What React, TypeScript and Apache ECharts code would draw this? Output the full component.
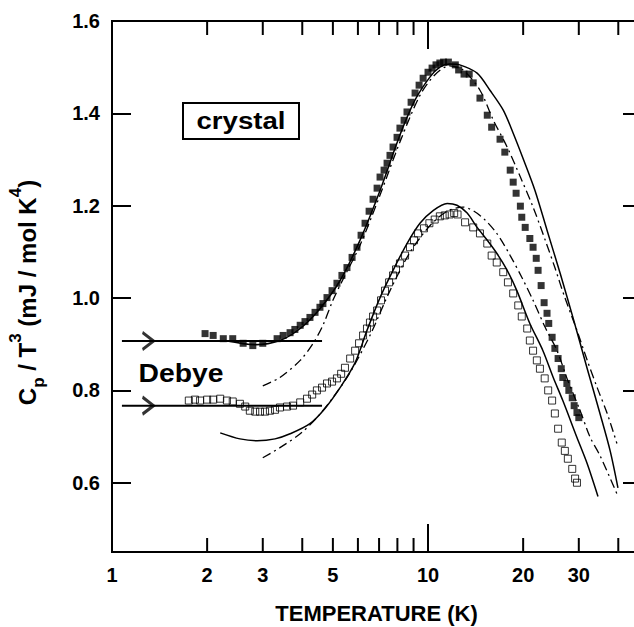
import React, { useEffect, useRef } from 'react';
import * as echarts from 'echarts';

// ---- axis ranges / ticks ----
const X_MIN = 1;
const X_MAX = 47.2;
const Y_MIN = 0.45;
const Y_MAX = 1.6;
const X_TICKS = [2, 3, 4, 5, 6, 7, 8, 9, 10, 20, 30, 40];
const X_LABELS = [1, 2, 3, 5, 10, 20, 30];
const Y_TICKS = [0.6, 0.8, 1.0, 1.2, 1.4];
const Y_LABELS = [0.6, 0.8, 1.0, 1.2, 1.4, 1.6];

// ---- measured data: filled squares (crystal) ----
const crystalData = [
  [1.97, 0.923], [2.09, 0.919], [2.25, 0.912], [2.41, 0.912], [2.6, 0.902], [2.79, 0.897], [3.0, 0.902],
  [3.33, 0.912], [3.48, 0.919], [3.66, 0.925], [3.79, 0.932], [3.94, 0.941], [4.08, 0.949], [4.23, 0.958],
  [4.39, 0.969], [4.55, 0.98], [4.65, 0.988], [4.79, 1.001], [4.97, 1.016], [5.15, 1.032], [5.34, 1.049],
  [5.54, 1.066], [5.75, 1.088], [5.96, 1.11], [6.14, 1.136], [6.32, 1.162], [6.51, 1.188], [6.7, 1.214],
  [6.9, 1.238], [7.05, 1.262], [7.26, 1.277], [7.42, 1.292], [7.58, 1.309], [7.75, 1.327], [7.98, 1.348],
  [8.15, 1.368], [8.4, 1.385], [8.58, 1.403], [8.84, 1.424], [9.1, 1.444], [9.37, 1.461], [9.65, 1.476],
  [10.0, 1.489], [10.3, 1.498], [10.6, 1.505], [10.9, 1.509], [11.2, 1.511], [11.6, 1.511], [12.2, 1.505],
  [12.5, 1.494], [13.0, 1.485], [13.5, 1.485], [13.9, 1.466], [14.6, 1.433], [15.4, 1.396], [15.9, 1.37],
  [16.9, 1.344], [17.5, 1.316], [18.2, 1.277], [18.6, 1.251], [19.0, 1.227], [19.6, 1.199], [19.8, 1.175],
  [20.3, 1.153], [21.0, 1.129], [21.5, 1.11], [22.0, 1.086], [22.3, 1.06], [22.8, 1.027], [23.3, 0.99],
  [23.8, 0.967], [24.1, 0.945], [24.7, 0.915], [25.2, 0.891], [25.8, 0.869], [26.4, 0.847], [26.7, 0.828],
  [27.5, 0.815], [27.9, 0.8], [28.6, 0.784], [29.0, 0.767], [29.6, 0.752], [30.0, 0.741],
];

// ---- measured data: open squares ----
const openData = [
  [1.75, 0.778], [1.83, 0.78], [1.9, 0.778], [2.0, 0.78], [2.09, 0.78], [2.2, 0.782], [2.31, 0.778],
  [2.41, 0.776], [2.54, 0.771], [2.64, 0.765], [2.73, 0.756], [2.84, 0.754], [2.94, 0.754], [3.05, 0.754],
  [3.16, 0.756], [3.28, 0.758], [3.4, 0.763], [3.58, 0.765], [3.74, 0.767], [3.94, 0.774], [4.14, 0.782],
  [4.3, 0.791], [4.45, 0.8], [4.62, 0.806], [4.79, 0.815], [4.97, 0.819], [5.15, 0.826], [5.31, 0.836],
  [5.46, 0.849], [5.67, 0.869], [5.88, 0.886], [6.05, 0.902], [6.23, 0.919], [6.41, 0.934], [6.55, 0.947],
  [6.7, 0.96], [6.9, 0.973], [7.1, 0.995], [7.31, 1.016], [7.53, 1.034], [7.75, 1.049], [7.92, 1.062],
  [8.15, 1.075], [8.46, 1.092], [8.77, 1.11], [9.03, 1.125], [9.3, 1.14], [9.71, 1.151], [10.1, 1.162],
  [10.5, 1.17], [10.9, 1.177], [11.3, 1.179], [11.7, 1.181], [12.1, 1.184], [12.4, 1.181], [13.1, 1.164],
  [13.9, 1.153], [14.6, 1.14], [15.4, 1.118], [15.9, 1.092], [16.5, 1.077], [17.3, 1.056], [17.9, 1.034],
  [18.6, 1.01], [19.3, 0.984], [19.8, 0.96], [20.6, 0.934], [21.0, 0.908], [21.5, 0.886], [22.1, 0.865],
  [22.6, 0.847], [23.4, 0.826], [24.0, 0.8], [24.7, 0.778], [25.2, 0.75], [25.8, 0.717], [26.5, 0.687],
  [27.1, 0.669], [27.7, 0.652], [28.6, 0.63], [29.2, 0.609], [29.6, 0.6],
];

// ---- model curves ----
const fitSolidUpper = [
  [2.28, 0.908], [2.84, 0.899], [3.4, 0.908], [3.94, 0.934], [4.55, 0.977], [5.27, 1.038], [6.09, 1.125],
  [7.05, 1.233], [8.15, 1.353], [9.1, 1.429], [10.15, 1.479], [10.9, 1.5], [11.7, 1.507], [12.6, 1.505],
  [14.3, 1.487], [15.7, 1.45], [17.3, 1.407], [18.6, 1.357], [20.1, 1.298], [21.8, 1.233], [23.8, 1.147],
  [26.2, 1.053], [28.8, 0.956], [31.9, 0.847], [35.0, 0.75], [37.7, 0.669], [39.9, 0.589],
];
const fitDashUpper = [
  [3.0, 0.81], [3.4, 0.828], [3.94, 0.865], [4.33, 0.902], [4.65, 0.941], [5.0, 0.995], [5.46, 1.049],
  [6.09, 1.114], [7.05, 1.223], [8.15, 1.338], [9.43, 1.439], [10.5, 1.483], [11.7, 1.503], [12.9, 1.494],
  [14.6, 1.45], [16.1, 1.385], [17.8, 1.327], [19.6, 1.262], [21.5, 1.197], [23.5, 1.125], [25.2, 1.066],
  [27.1, 1.001], [29.6, 0.93], [31.9, 0.865], [34.3, 0.806], [36.9, 0.75], [39.6, 0.685],
];
const fitSolidLower = [
  [2.2, 0.708], [2.54, 0.695], [2.88, 0.691], [3.28, 0.695], [3.66, 0.706], [4.23, 0.728], [4.72, 0.761],
  [5.27, 0.806], [5.88, 0.86], [6.41, 0.93], [7.05, 1.001], [7.75, 1.06], [8.58, 1.118], [9.43, 1.162],
  [10.4, 1.19], [11.5, 1.205], [12.35, 1.201], [13.3, 1.184], [14.3, 1.153], [15.4, 1.125], [16.5, 1.097],
  [17.8, 1.06], [19.1, 1.016], [21.0, 0.945], [23.1, 0.886], [24.9, 0.828], [26.7, 0.778], [29.6, 0.698],
  [31.9, 0.641], [34.5, 0.57],
];
const fitDashLower = [
  [3.0, 0.654], [3.4, 0.676], [3.94, 0.706], [4.45, 0.741], [5.0, 0.784], [5.67, 0.839], [6.55, 0.919],
  [7.58, 1.016], [8.77, 1.099], [10.15, 1.157], [11.5, 1.188], [12.9, 1.197], [14.6, 1.179], [16.5, 1.14],
  [18.2, 1.092], [19.8, 1.045], [21.5, 0.995], [23.5, 0.936], [25.6, 0.886], [27.7, 0.821], [30.3, 0.756],
  [32.6, 0.698], [35.0, 0.659], [39.6, 0.576],
];

// ---- Debye limits ----
const DEBYE_UPPER = 0.907;
const DEBYE_LOWER = 0.767;
const DEBYE_T = [1.075, 4.62];
const ARROW_T = 1.3;

const FONT = '"Liberation Sans", Arial, Helvetica, sans-serif';

export default function App() {
  const ref = useRef<HTMLDivElement>(null);
  useEffect(() => {
    if (!ref.current) return;
    const chart = echarts.init(ref.current, undefined, { renderer: 'svg' });
    const solid = { color: '#000', width: 1.5, type: 'solid' as const };
    const dashdot = { color: '#000', width: 1.3, type: [9, 4, 2, 4] };
    const lineSeries = (data: number[][], style: any) => ({
      type: 'line',
      data,
      smooth: 0.3,
      showSymbol: false,
      symbol: 'none',
      lineStyle: style,
      silent: true,
      z: 3,
    });
    const arrowPath = 'path://M0,0L10,8L0,16';
    const option: any = {
      animation: false,
      backgroundColor: '#fff',
      grid: {
        left: 112, top: 21, width: 529, height: 531,
        show: true, borderColor: '#000', borderWidth: 2,
        containLabel: false, outerBoundsMode: 'none',
      },
      xAxis: {
        type: 'log',
        logBase: 10,
        min: X_MIN,
        max: X_MAX,
        axisLine: { show: false },
        axisTick: { show: false },
        axisLabel: { show: false },
        splitLine: { show: false },
        minorTick: { show: false },
        name: 'TEMPERATURE (K)',
        nameLocation: 'middle',
        nameGap: 52,
        nameTextStyle: { fontFamily: FONT, fontWeight: 'bold', fontSize: 22, lineHeight: 18, color: '#000' },
      },
      yAxis: [
        {
          type: 'value',
          min: Y_MIN,
          max: Y_MAX,
          position: 'left',
          axisLine: { show: false },
          splitLine: { show: false },
          axisTick: { show: true, inside: true, length: 19, lineStyle: { color: '#000', width: 2 }, customValues: Y_TICKS },
          axisLabel: {
            customValues: Y_LABELS,
            formatter: (v: number) => v.toFixed(1),
            color: '#000',
            fontFamily: FONT,
            fontWeight: 'bold',
            fontSize: 20,
            margin: 12,
          },
          name: '{b|C}{sub|p}{b| / T}{sup|3}{b| (mJ / mol K}{sup|4}{b|)}',
          nameLocation: 'middle',
          nameRotate: 90,
          nameGap: 65,
          nameTextStyle: {
            color: '#000',
            fontFamily: FONT,
            fontWeight: 'bold',
            fontSize: 24,
            padding: [0, 12, 0, 0],
            rich: {
              b: { fontSize: 24, fontWeight: 'bold', fontFamily: FONT, color: '#000', lineHeight: 40 },
              sup: { fontSize: 17, fontWeight: 'bold', fontFamily: FONT, color: '#000', verticalAlign: 'top', lineHeight: 10 },
              sub: { fontSize: 17, fontWeight: 'bold', fontFamily: FONT, color: '#000', verticalAlign: 'bottom', lineHeight: 22 },
            },
          },
        },
        {
          type: 'value',
          min: Y_MIN,
          max: Y_MAX,
          position: 'right',
          axisLine: { show: false },
          splitLine: { show: false },
          axisTick: { show: true, inside: true, length: 18, lineStyle: { color: '#000', width: 2 }, customValues: Y_TICKS },
          axisLabel: { show: false },
        },
      ],
      graphic: [
        { type: 'rect', shape: { x: 183, y: 103, width: 116, height: 36 }, style: { fill: '#fff', stroke: '#000', lineWidth: 2 }, z: 100 },
        {
          type: 'text', x: 241, y: 121, scaleX: 1.15, z: 101,
          style: { text: 'crystal', font: 'bold 24px ' + FONT, fill: '#000', align: 'center', verticalAlign: 'middle' },
        },
        {
          type: 'text', x: 181, y: 373, scaleX: 1.09, z: 101,
          style: { text: 'Debye', font: 'bold 26px ' + FONT, fill: '#000', align: 'center', verticalAlign: 'middle' },
        },
      ],
      series: [
        {
          type: 'scatter',
          data: openData,
          symbol: 'rect',
          symbolSize: 7,
          itemStyle: { color: 'rgba(255,255,255,0)', borderColor: '#000', borderWidth: 1 },
          silent: true,
          z: 2,
        },
        {
          type: 'scatter',
          data: crystalData,
          symbol: 'rect',
          symbolSize: 7,
          itemStyle: { color: '#000' },
          silent: true,
          z: 2,
        },
        lineSeries(fitSolidUpper, solid),
        lineSeries(fitDashUpper, dashdot),
        lineSeries(fitSolidLower, solid),
        lineSeries(fitDashLower, dashdot),
        {
          type: 'line',
          data: [[DEBYE_T[0], DEBYE_UPPER], [DEBYE_T[1], DEBYE_UPPER]],
          showSymbol: false, symbol: 'none', silent: true,
          lineStyle: { color: '#000', width: 2 }, z: 4,
        },
        {
          type: 'line',
          data: [[DEBYE_T[0], DEBYE_LOWER], [DEBYE_T[1], DEBYE_LOWER]],
          showSymbol: false, symbol: 'none', silent: true,
          lineStyle: { color: '#000', width: 2 }, z: 4,
        },
        {
          type: 'scatter',
          data: [[ARROW_T, DEBYE_UPPER], [ARROW_T, DEBYE_LOWER]],
          symbol: arrowPath,
          symbolSize: [11, 17],
          itemStyle: { color: 'rgba(255,255,255,0)', borderColor: '#000', borderWidth: 2.8 },
          silent: true,
          z: 5,
        },
        {
          type: 'custom',
          coordinateSystem: 'cartesian2d',
          clip: false,
          silent: true,
          data: X_TICKS.map((v) => [v, Y_MIN]),
          renderItem: (_p: any, api: any) => {
            const v = api.value(0);
            const b = api.coord([v, Y_MIN]);
            const t = api.coord([v, Y_MAX]);
            const len = v === 10 ? 28 : 14;
            const st = { stroke: '#000', lineWidth: 2 };
            return {
              type: 'group',
              children: [
                { type: 'line', shape: { x1: b[0], y1: b[1], x2: b[0], y2: b[1] - len }, style: st },
                { type: 'line', shape: { x1: t[0], y1: t[1], x2: t[0], y2: t[1] + len }, style: st },
              ],
            };
          },
          z: 6,
        },
        {
          type: 'custom',
          coordinateSystem: 'cartesian2d',
          clip: false,
          silent: true,
          data: X_LABELS.map((v) => [v, Y_MIN]),
          renderItem: (_p: any, api: any) => {
            const v = api.value(0);
            const b = api.coord([v, Y_MIN]);
            return {
              type: 'text',
              x: b[0],
              y: b[1] + 23,
              style: { text: String(v), font: 'bold 20px ' + FONT, fill: '#000', align: 'center', verticalAlign: 'middle' },
            };
          },
          z: 6,
        },
      ],
    };
    chart.setOption(option);
    return () => chart.dispose();
  }, []);
  return <div ref={ref} style={{ position: 'absolute', left: 0, top: 0, width: 634, height: 627, background: '#fff' }} />;
}
